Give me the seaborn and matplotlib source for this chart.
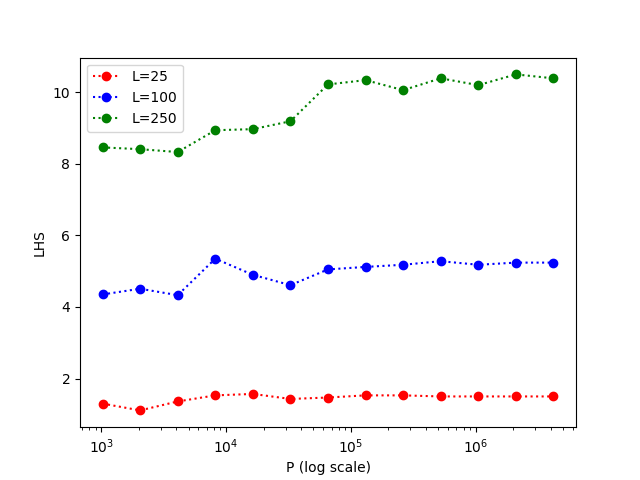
import matplotlib
matplotlib.use("Agg")
import matplotlib.pyplot as plt
import seaborn as sns
import pandas as pd

P = [2**k for k in range(10, 23)]
L25 = [1.30, 1.11, 1.36, 1.53, 1.57, 1.43, 1.47, 1.53, 1.53, 1.50, 1.50, 1.50, 1.50]
L100 = [4.35, 4.51, 4.33, 5.35, 4.90, 4.61, 5.05, 5.12, 5.18, 5.28, 5.18, 5.24, 5.24]
L250 = [8.46, 8.41, 8.33, 8.94, 8.97, 9.19, 10.22, 10.34, 10.06, 10.39, 10.20, 10.50, 10.39]
labels = ["L=25", "L=100", "L=250"]
colors = ["red", "blue", "green"]

fig, ax = plt.subplots(figsize=(6.4, 4.8), dpi=100)
for vals, lab, c in zip([L25, L100, L250], labels, colors):
    df = pd.DataFrame({"P": P, "LHS": vals})
    sns.lineplot(data=df, x="P", y="LHS", ax=ax, color=c, label=lab,
                 marker="o", linestyle=":", markersize=6,
                 markeredgecolor=c, markeredgewidth=1)
ax.set_xscale("log")
ax.set_xlabel("P (log scale)")
ax.set_ylabel("LHS")
ax.legend(loc="upper left")
fig.savefig("out.png", dpi=100)
